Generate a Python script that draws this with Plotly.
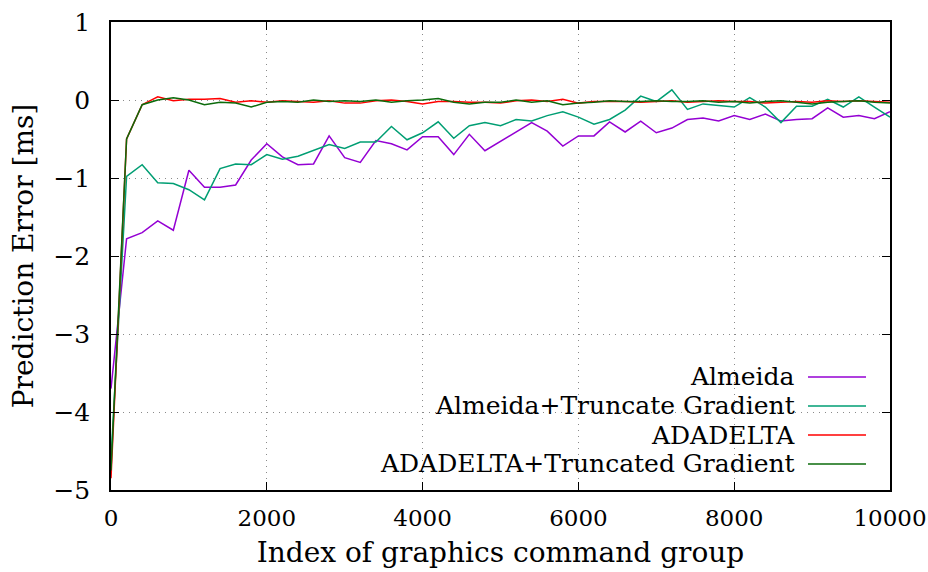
import plotly.graph_objects as go

# ---------------- data ----------------
steps = list(range(0, 10001, 200))

almeida = [-3.70, -1.78, -1.70, -1.55, -1.67, -0.90, -1.12, -1.12, -1.09, -0.77,
           -0.56, -0.73, -0.83, -0.82, -0.46, -0.74, -0.80, -0.52, -0.56, -0.64,
           -0.47, -0.47, -0.70, -0.44, -0.65, -0.53, -0.42, -0.29, -0.40, -0.59,
           -0.46, -0.46, -0.28, -0.41, -0.27, -0.42, -0.36, -0.25, -0.23, -0.27,
           -0.20, -0.25, -0.18, -0.27, -0.25, -0.24, -0.10, -0.22, -0.20, -0.24,
           -0.15]

almeida_tg = [-4.60, -0.98, -0.83, -1.06, -1.07, -1.15, -1.28, -0.88, -0.82, -0.83,
              -0.70, -0.76, -0.72, -0.64, -0.57, -0.62, -0.54, -0.54, -0.34, -0.51,
              -0.42, -0.28, -0.49, -0.33, -0.29, -0.33, -0.25, -0.27, -0.20, -0.15,
              -0.22, -0.31, -0.25, -0.13, 0.05, -0.02, 0.13, -0.12, -0.05, -0.07,
              -0.09, 0.03, -0.09, -0.29, -0.08, -0.08, 0.01, -0.09, 0.04, -0.09,
              -0.22]

adadelta = [-4.85, -0.50, -0.06, 0.04, -0.01, 0.01, 0.01, 0.02, -0.03, -0.01,
            -0.03, -0.01, -0.02, -0.03, -0.01, -0.04, -0.04, -0.01, 0.00, -0.02,
            -0.05, -0.02, -0.02, -0.03, -0.03, -0.04, -0.01, 0.00, -0.02, 0.01,
            -0.04, -0.02, -0.02, -0.02, -0.03, -0.02, -0.01, -0.03, -0.02, -0.01,
            -0.02, -0.02, -0.04, -0.03, -0.02, -0.03, -0.01, -0.02, -0.01, -0.02,
            -0.03]

adadelta_tg = [-4.75, -0.50, -0.06, 0.00, 0.03, 0.00, -0.06, -0.03, -0.04, -0.09,
               -0.03, -0.02, -0.03, 0.00, -0.02, -0.01, -0.02, 0.00, -0.03, -0.01,
               0.00, 0.02, -0.03, -0.05, -0.03, -0.03, 0.00, -0.03, -0.01, -0.06,
               -0.04, -0.03, -0.01, -0.02, -0.02, -0.01, -0.02, -0.02, -0.01, -0.03,
               -0.02, -0.04, -0.02, -0.01, -0.03, -0.05, -0.03, -0.02, -0.01, -0.03,
               -0.04]

series_names = ["Almeida", "Almeida+Truncate Gradient", "ADADELTA",
                "ADADELTA+Truncated Gradient"]
series_values = [almeida, almeida_tg, adadelta, adadelta_tg]
series_colors = ["#9400D3", "#009E73", "#FF0000", "#0B6B0B"]

x_tick_vals = [0, 2000, 4000, 6000, 8000, 10000]
x_tick_text = ["0", "2000", "4000", "6000", "8000", "10000"]
y_tick_vals = [-5, -4, -3, -2, -1, 0, 1]
y_tick_text = ["\u22125", "\u22124", "\u22123", "\u22122", "\u22121", "0", "1"]

FONT = "DejaVu Serif"

fig = go.Figure()
for name, vals, col in zip(series_names, series_values, series_colors):
    fig.add_trace(go.Scatter(x=steps, y=vals, mode="lines", name=name,
                             line=dict(color=col, width=1.5), showlegend=False))

# manual legend (text right-aligned, sample line to the right)
legend_y = [0.2415, 0.1795, 0.1175, 0.0556]
for name, col, ly in zip(series_names, series_colors, legend_y):
    fig.add_annotation(xref="paper", yref="paper", x=0.8793, y=ly, text=name,
                       showarrow=False, xanchor="right", yanchor="middle",
                       borderpad=0, font=dict(family=FONT, size=25, color="black"))
    fig.add_shape(type="line", xref="paper", yref="paper", x0=0.8947, x1=0.9692,
                  y0=ly, y1=ly, line=dict(color=col, width=1.5))

axis_common = dict(showline=True, linecolor="black", linewidth=1.5, mirror="ticks",
                   ticks="inside", ticklen=8, tickcolor="black", tickwidth=1.2,
                   showgrid=True, gridcolor="#8a8a8a", griddash="1px,5px", gridwidth=1,
                   zeroline=False, automargin=False)

fig.update_xaxes(range=[0, 10000], tickvals=x_tick_vals, ticktext=x_tick_text,
                 ticklabelstandoff=7, ticklabeloverflow="allow",
                 tickfont=dict(family=FONT, size=23, color="black"),
                 title=dict(text="Index of graphics command group",
                            font=dict(family=FONT, size=28, color="black"), standoff=12),
                 **axis_common)
fig.update_yaxes(range=[-5, 1], tickvals=y_tick_vals, ticktext=y_tick_text,
                 ticklabelstandoff=14,
                 tickfont=dict(family=FONT, size=25, color="black"),
                 title=dict(text="Prediction Error [ms]",
                            font=dict(family=FONT, size=28, color="black"), standoff=12),
                 **axis_common)

fig.update_layout(width=928, height=572, plot_bgcolor="white", paper_bgcolor="white",
                  margin=dict(l=111, r=38, t=22, b=82))

fig.write_html("out.html")
